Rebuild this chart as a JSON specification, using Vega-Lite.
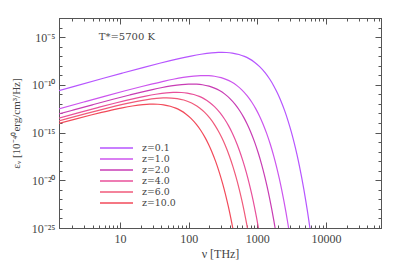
{
  "$schema": "https://vega.github.io/schema/vega-lite/v6.json",
  "width": 322,
  "height": 210,
  "autosize": {"type": "none"},
  "padding": {"left": 59, "top": 18, "right": 18, "bottom": 38},
  "background": "white",
  "config": {
    "view": {"stroke": "#555", "strokeWidth": 1},
    "font": "Liberation Serif",
    "axis": {
      "grid": false,
      "domainColor": "#555",
      "tickColor": "#555",
      "labelColor": "#444",
      "titleColor": "#444",
      "labelFont": "Liberation Serif",
      "titleFont": "Liberation Serif",
      "labelFontSize": 12,
      "titleFontSize": 12,
      "titleFontWeight": "normal",
      "labelOverlap": false,
      "labelFlush": false
    }
  },
  "datasets": {
    "curves": [
      {"z": "z=0.1", "nu": 1.08, "eps": 1.76e-11},
      {"z": "z=0.1", "nu": 2.16, "eps": 7.00e-11},
      {"z": "z=0.1", "nu": 5.4, "eps": 4.31e-10},
      {"z": "z=0.1", "nu": 10.8, "eps": 1.68e-9},
      {"z": "z=0.1", "nu": 21.6, "eps": 6.39e-9},
      {"z": "z=0.1", "nu": 37.8, "eps": 1.81e-8},
      {"z": "z=0.1", "nu": 54, "eps": 3.41e-8},
      {"z": "z=0.1", "nu": 81, "eps": 6.67e-8},
      {"z": "z=0.1", "nu": 108, "eps": 1.03e-7},
      {"z": "z=0.1", "nu": 151.2, "eps": 1.59e-7},
      {"z": "z=0.1", "nu": 216, "eps": 2.21e-7},
      {"z": "z=0.1", "nu": 270, "eps": 2.47e-7},
      {"z": "z=0.1", "nu": 304.6, "eps": 2.51e-7},
      {"z": "z=0.1", "nu": 356.4, "eps": 2.43e-7},
      {"z": "z=0.1", "nu": 432, "eps": 2.11e-7},
      {"z": "z=0.1", "nu": 540, "eps": 1.50e-7},
      {"z": "z=0.1", "nu": 648, "eps": 9.49e-8},
      {"z": "z=0.1", "nu": 756, "eps": 5.53e-8},
      {"z": "z=0.1", "nu": 918, "eps": 2.21e-8},
      {"z": "z=0.1", "nu": 1080, "eps": 8.02e-9},
      {"z": "z=0.1", "nu": 1296, "eps": 1.88e-9},
      {"z": "z=0.1", "nu": 1512, "eps": 4.03e-10},
      {"z": "z=0.1", "nu": 1728, "eps": 8.15e-11},
      {"z": "z=0.1", "nu": 1944, "eps": 1.57e-11},
      {"z": "z=0.1", "nu": 2160, "eps": 2.91e-12},
      {"z": "z=0.1", "nu": 2484, "eps": 2.21e-13},
      {"z": "z=0.1", "nu": 2808, "eps": 1.59e-14},
      {"z": "z=0.1", "nu": 3132, "eps": 1.10e-15},
      {"z": "z=0.1", "nu": 3456, "eps": 7.33e-17},
      {"z": "z=0.1", "nu": 3780, "eps": 4.78e-18},
      {"z": "z=0.1", "nu": 4104, "eps": 3.04e-19},
      {"z": "z=0.1", "nu": 4428, "eps": 1.90e-20},
      {"z": "z=0.1", "nu": 4752, "eps": 1.17e-21},
      {"z": "z=0.1", "nu": 5076, "eps": 7.11e-23},
      {"z": "z=0.1", "nu": 5400, "eps": 4.26e-24},
      {"z": "z=0.1", "nu": 5724, "eps": 2.53e-25},
      {"z": "z=0.1", "nu": 6048, "eps": 1.48e-26},

      {"z": "z=1.0", "nu": 1.188, "eps": 2.60e-13},
      {"z": "z=1.0", "nu": 2.97, "eps": 1.60e-12},
      {"z": "z=1.0", "nu": 5.94, "eps": 6.24e-12},
      {"z": "z=1.0", "nu": 11.88, "eps": 2.37e-11},
      {"z": "z=1.0", "nu": 20.79, "eps": 6.72e-11},
      {"z": "z=1.0", "nu": 29.7, "eps": 1.26e-10},
      {"z": "z=1.0", "nu": 44.55, "eps": 2.48e-10},
      {"z": "z=1.0", "nu": 59.4, "eps": 3.82e-10},
      {"z": "z=1.0", "nu": 83.16, "eps": 5.90e-10},
      {"z": "z=1.0", "nu": 118.8, "eps": 8.22e-10},
      {"z": "z=1.0", "nu": 148.5, "eps": 9.18e-10},
      {"z": "z=1.0", "nu": 167.5, "eps": 9.33e-10},
      {"z": "z=1.0", "nu": 196.0, "eps": 9.04e-10},
      {"z": "z=1.0", "nu": 237.6, "eps": 7.84e-10},
      {"z": "z=1.0", "nu": 297, "eps": 5.57e-10},
      {"z": "z=1.0", "nu": 356.4, "eps": 3.53e-10},
      {"z": "z=1.0", "nu": 415.8, "eps": 2.06e-10},
      {"z": "z=1.0", "nu": 504.9, "eps": 8.21e-11},
      {"z": "z=1.0", "nu": 594, "eps": 2.98e-11},
      {"z": "z=1.0", "nu": 712.8, "eps": 6.97e-12},
      {"z": "z=1.0", "nu": 831.6, "eps": 1.50e-12},
      {"z": "z=1.0", "nu": 950.4, "eps": 3.03e-13},
      {"z": "z=1.0", "nu": 1069.2, "eps": 5.83e-14},
      {"z": "z=1.0", "nu": 1188, "eps": 1.08e-14},
      {"z": "z=1.0", "nu": 1366.2, "eps": 8.20e-16},
      {"z": "z=1.0", "nu": 1544.4, "eps": 5.90e-17},
      {"z": "z=1.0", "nu": 1722.6, "eps": 4.07e-18},
      {"z": "z=1.0", "nu": 1900.8, "eps": 2.72e-19},
      {"z": "z=1.0", "nu": 2079, "eps": 1.78e-20},
      {"z": "z=1.0", "nu": 2257.2, "eps": 1.13e-21},
      {"z": "z=1.0", "nu": 2435.4, "eps": 7.07e-23},
      {"z": "z=1.0", "nu": 2613.6, "eps": 4.35e-24},
      {"z": "z=1.0", "nu": 2791.8, "eps": 2.64e-25},
      {"z": "z=1.0", "nu": 2970, "eps": 1.58e-26},

      {"z": "z=2.0", "nu": 0.792, "eps": 3.35e-14},
      {"z": "z=2.0", "nu": 1.98, "eps": 2.06e-13},
      {"z": "z=2.0", "nu": 3.96, "eps": 8.04e-13},
      {"z": "z=2.0", "nu": 7.92, "eps": 3.06e-12},
      {"z": "z=2.0", "nu": 13.86, "eps": 8.65e-12},
      {"z": "z=2.0", "nu": 19.8, "eps": 1.63e-11},
      {"z": "z=2.0", "nu": 29.7, "eps": 3.19e-11},
      {"z": "z=2.0", "nu": 39.6, "eps": 4.92e-11},
      {"z": "z=2.0", "nu": 55.44, "eps": 7.60e-11},
      {"z": "z=2.0", "nu": 79.2, "eps": 1.06e-10},
      {"z": "z=2.0", "nu": 99, "eps": 1.18e-10},
      {"z": "z=2.0", "nu": 111.7, "eps": 1.20e-10},
      {"z": "z=2.0", "nu": 130.7, "eps": 1.16e-10},
      {"z": "z=2.0", "nu": 158.4, "eps": 1.01e-10},
      {"z": "z=2.0", "nu": 198, "eps": 7.17e-11},
      {"z": "z=2.0", "nu": 237.6, "eps": 4.54e-11},
      {"z": "z=2.0", "nu": 277.2, "eps": 2.65e-11},
      {"z": "z=2.0", "nu": 336.6, "eps": 1.06e-11},
      {"z": "z=2.0", "nu": 396, "eps": 3.84e-12},
      {"z": "z=2.0", "nu": 475.2, "eps": 8.98e-13},
      {"z": "z=2.0", "nu": 554.4, "eps": 1.93e-13},
      {"z": "z=2.0", "nu": 633.6, "eps": 3.90e-14},
      {"z": "z=2.0", "nu": 712.8, "eps": 7.51e-15},
      {"z": "z=2.0", "nu": 792, "eps": 1.39e-15},
      {"z": "z=2.0", "nu": 910.8, "eps": 1.06e-16},
      {"z": "z=2.0", "nu": 1029.6, "eps": 7.60e-18},
      {"z": "z=2.0", "nu": 1148.4, "eps": 5.25e-19},
      {"z": "z=2.0", "nu": 1267.2, "eps": 3.51e-20},
      {"z": "z=2.0", "nu": 1386, "eps": 2.29e-21},
      {"z": "z=2.0", "nu": 1504.8, "eps": 1.46e-22},
      {"z": "z=2.0", "nu": 1623.6, "eps": 9.11e-24},
      {"z": "z=2.0", "nu": 1742.4, "eps": 5.61e-25},
      {"z": "z=2.0", "nu": 1861.2, "eps": 3.40e-26},

      {"z": "z=4.0", "nu": 1.188, "eps": 2.78e-14},
      {"z": "z=4.0", "nu": 2.376, "eps": 1.09e-13},
      {"z": "z=4.0", "nu": 4.752, "eps": 4.12e-13},
      {"z": "z=4.0", "nu": 8.316, "eps": 1.17e-12},
      {"z": "z=4.0", "nu": 11.88, "eps": 2.20e-12},
      {"z": "z=4.0", "nu": 17.82, "eps": 4.31e-12},
      {"z": "z=4.0", "nu": 23.76, "eps": 6.64e-12},
      {"z": "z=4.0", "nu": 33.26, "eps": 1.02e-11},
      {"z": "z=4.0", "nu": 47.52, "eps": 1.43e-11},
      {"z": "z=4.0", "nu": 59.4, "eps": 1.59e-11},
      {"z": "z=4.0", "nu": 67.0, "eps": 1.62e-11},
      {"z": "z=4.0", "nu": 78.41, "eps": 1.57e-11},
      {"z": "z=4.0", "nu": 95.04, "eps": 1.36e-11},
      {"z": "z=4.0", "nu": 118.8, "eps": 9.68e-12},
      {"z": "z=4.0", "nu": 142.6, "eps": 6.12e-12},
      {"z": "z=4.0", "nu": 166.3, "eps": 3.57e-12},
      {"z": "z=4.0", "nu": 202, "eps": 1.43e-12},
      {"z": "z=4.0", "nu": 237.6, "eps": 5.18e-13},
      {"z": "z=4.0", "nu": 285.1, "eps": 1.21e-13},
      {"z": "z=4.0", "nu": 332.6, "eps": 2.60e-14},
      {"z": "z=4.0", "nu": 380.2, "eps": 5.26e-15},
      {"z": "z=4.0", "nu": 427.7, "eps": 1.01e-15},
      {"z": "z=4.0", "nu": 475.2, "eps": 1.88e-16},
      {"z": "z=4.0", "nu": 546.5, "eps": 1.42e-17},
      {"z": "z=4.0", "nu": 617.8, "eps": 1.02e-18},
      {"z": "z=4.0", "nu": 689.0, "eps": 7.08e-20},
      {"z": "z=4.0", "nu": 760.3, "eps": 4.73e-21},
      {"z": "z=4.0", "nu": 831.6, "eps": 3.08e-22},
      {"z": "z=4.0", "nu": 902.9, "eps": 1.97e-23},
      {"z": "z=4.0", "nu": 974.2, "eps": 1.23e-24},
      {"z": "z=4.0", "nu": 1045.4, "eps": 7.56e-26},

      {"z": "z=6.0", "nu": 0.849, "eps": 7.32e-15},
      {"z": "z=6.0", "nu": 1.697, "eps": 2.85e-14},
      {"z": "z=6.0", "nu": 3.394, "eps": 1.08e-13},
      {"z": "z=6.0", "nu": 5.94, "eps": 3.07e-13},
      {"z": "z=6.0", "nu": 8.486, "eps": 5.78e-13},
      {"z": "z=6.0", "nu": 12.73, "eps": 1.13e-12},
      {"z": "z=6.0", "nu": 16.97, "eps": 1.75e-12},
      {"z": "z=6.0", "nu": 23.76, "eps": 2.70e-12},
      {"z": "z=6.0", "nu": 33.94, "eps": 3.76e-12},
      {"z": "z=6.0", "nu": 42.43, "eps": 4.19e-12},
      {"z": "z=6.0", "nu": 47.86, "eps": 4.27e-12},
      {"z": "z=6.0", "nu": 56.0, "eps": 4.13e-12},
      {"z": "z=6.0", "nu": 67.88, "eps": 3.58e-12},
      {"z": "z=6.0", "nu": 84.86, "eps": 2.54e-12},
      {"z": "z=6.0", "nu": 101.8, "eps": 1.61e-12},
      {"z": "z=6.0", "nu": 118.8, "eps": 9.40e-13},
      {"z": "z=6.0", "nu": 144.3, "eps": 3.75e-13},
      {"z": "z=6.0", "nu": 169.7, "eps": 1.36e-13},
      {"z": "z=6.0", "nu": 203.7, "eps": 3.19e-14},
      {"z": "z=6.0", "nu": 237.6, "eps": 6.85e-15},
      {"z": "z=6.0", "nu": 271.5, "eps": 1.38e-15},
      {"z": "z=6.0", "nu": 305.5, "eps": 2.67e-16},
      {"z": "z=6.0", "nu": 339.4, "eps": 4.95e-17},
      {"z": "z=6.0", "nu": 390.3, "eps": 3.75e-18},
      {"z": "z=6.0", "nu": 441.2, "eps": 2.70e-19},
      {"z": "z=6.0", "nu": 492.2, "eps": 1.86e-20},
      {"z": "z=6.0", "nu": 543.1, "eps": 1.25e-21},
      {"z": "z=6.0", "nu": 594.0, "eps": 8.11e-23},
      {"z": "z=6.0", "nu": 644.9, "eps": 5.17e-24},
      {"z": "z=6.0", "nu": 695.8, "eps": 3.23e-25},
      {"z": "z=6.0", "nu": 746.7, "eps": 1.99e-26},

      {"z": "z=10.0", "nu": 1.08, "eps": 6.39e-15},
      {"z": "z=10.0", "nu": 2.16, "eps": 2.43e-14},
      {"z": "z=10.0", "nu": 3.78, "eps": 6.87e-14},
      {"z": "z=10.0", "nu": 5.4, "eps": 1.29e-13},
      {"z": "z=10.0", "nu": 8.1, "eps": 2.54e-13},
      {"z": "z=10.0", "nu": 10.8, "eps": 3.91e-13},
      {"z": "z=10.0", "nu": 15.12, "eps": 6.03e-13},
      {"z": "z=10.0", "nu": 21.6, "eps": 8.41e-13},
      {"z": "z=10.0", "nu": 27, "eps": 9.39e-13},
      {"z": "z=10.0", "nu": 30.46, "eps": 9.55e-13},
      {"z": "z=10.0", "nu": 35.64, "eps": 9.25e-13},
      {"z": "z=10.0", "nu": 43.2, "eps": 8.02e-13},
      {"z": "z=10.0", "nu": 54, "eps": 5.70e-13},
      {"z": "z=10.0", "nu": 64.8, "eps": 3.61e-13},
      {"z": "z=10.0", "nu": 75.6, "eps": 2.10e-13},
      {"z": "z=10.0", "nu": 91.8, "eps": 8.40e-14},
      {"z": "z=10.0", "nu": 108, "eps": 3.05e-14},
      {"z": "z=10.0", "nu": 129.6, "eps": 7.13e-15},
      {"z": "z=10.0", "nu": 151.2, "eps": 1.53e-15},
      {"z": "z=10.0", "nu": 172.8, "eps": 3.10e-16},
      {"z": "z=10.0", "nu": 194.4, "eps": 5.97e-17},
      {"z": "z=10.0", "nu": 216, "eps": 1.11e-17},
      {"z": "z=10.0", "nu": 248.4, "eps": 8.39e-19},
      {"z": "z=10.0", "nu": 280.8, "eps": 6.03e-20},
      {"z": "z=10.0", "nu": 313.2, "eps": 4.17e-21},
      {"z": "z=10.0", "nu": 345.6, "eps": 2.79e-22},
      {"z": "z=10.0", "nu": 378, "eps": 1.82e-23},
      {"z": "z=10.0", "nu": 410.4, "eps": 1.16e-24},
      {"z": "z=10.0", "nu": 442.8, "eps": 7.24e-26}
    ],
    "note": [
      {"nu": 4.91, "eps": 1e-5, "label": "T*=5700 K"}
    ]
  },
  "layer": [
    {
      "data": {"name": "curves"},
      "mark": {"type": "line", "clip": true, "strokeWidth": 1.2, "interpolate": "monotone"},
      "encoding": {
        "x": {
          "field": "nu", "type": "quantitative",
          "scale": {"type": "log", "domain": [1.293, 63240], "nice": false},
          "axis": {
            "orient": "bottom",
            "title": "ν [THz]",
            "titlePadding": 1,
            "values": [2,3,4,5,6,7,8,9,10,20,30,40,50,60,70,80,90,100,200,300,400,500,600,700,800,900,1000,2000,3000,4000,5000,6000,7000,8000,9000,10000,20000,30000,40000,50000,60000],
            "labelExpr": "datum.value == 10 ? '10' : datum.value == 100 ? '100' : datum.value == 1000 ? '1000' : datum.value == 10000 ? '10000' : ''",
            "tickSize": {"condition": {"test": "datum.value == 10 || datum.value == 100 || datum.value == 1000 || datum.value == 10000", "value": -6}, "value": -3},
            "labelPadding": 11
          }
        },
        "y": {
          "field": "eps", "type": "quantitative",
          "scale": {"type": "log", "domain": [1e-25, 1e-3], "nice": false},
          "axis": {
            "orient": "left",
            "title": "εᵥ [10⁻⁴⁰erg/cm³/Hz]",
            "titleFontSize": 11,
            "titlePadding": 10,
            "values": [1e-25,1e-24,1e-23,1e-22,1e-21,1e-20,1e-19,1e-18,1e-17,1e-16,1e-15,1e-14,1e-13,1e-12,1e-11,1e-10,1e-9,1e-8,1e-7,1e-6,1e-5,1e-4,1e-3],
            "labelExpr": "datum.value == 1e-5 ? '10⁻⁵' : datum.value == 1e-10 ? '10⁻¹⁰' : datum.value == 1e-15 ? '10⁻¹⁵' : datum.value == 1e-20 ? '10⁻²⁰' : datum.value == 1e-25 ? '10⁻²⁵' : ''",
            "tickSize": {"condition": {"test": "datum.value == 1e-5 || datum.value == 1e-10 || datum.value == 1e-15 || datum.value == 1e-20 || datum.value == 1e-25", "value": -6}, "value": -3},
            "labelPadding": 10
          }
        },
        "color": {
          "field": "z", "type": "nominal",
          "scale": {
            "domain": ["z=0.1", "z=1.0", "z=2.0", "z=4.0", "z=6.0", "z=10.0"],
            "range": ["#b655ff", "#cc55ee", "#c83cb4", "#e8509a", "#f05a7a", "#f24a5a"]
          },
          "legend": {
            "orient": "none",
            "legendX": 51.5,
            "legendY": 124,
            "title": null,
            "symbolType": "M-3.3,0H3.3",
            "symbolSize": 100,
            "symbolStrokeWidth": 1.3,
            "labelFont": "DejaVu Serif",
            "labelFontSize": 9.4,
            "labelColor": "#444",
            "labelOffset": 19.5,
            "rowPadding": 0
          }
        }
      }
    },
    {
      "data": {"name": "note"},
      "mark": {"type": "text", "align": "left", "baseline": "middle", "font": "DejaVu Serif", "fontSize": 10, "color": "#444"},
      "encoding": {
        "x": {
          "field": "nu", "type": "quantitative",
          "scale": {"type": "log", "domain": [1.293, 63240], "nice": false},
          "axis": {
            "orient": "top",
            "title": null,
            "labels": false,
            "values": [2,3,4,5,6,7,8,9,10,20,30,40,50,60,70,80,90,100,200,300,400,500,600,700,800,900,1000,2000,3000,4000,5000,6000,7000,8000,9000,10000,20000,30000,40000,50000,60000],
            "tickSize": {"condition": {"test": "datum.value == 10 || datum.value == 100 || datum.value == 1000 || datum.value == 10000", "value": -6}, "value": -3}
          }
        },
        "y": {
          "field": "eps", "type": "quantitative",
          "scale": {"type": "log", "domain": [1e-25, 1e-3], "nice": false},
          "axis": {
            "orient": "right",
            "title": null,
            "labels": false,
            "values": [1e-25,1e-24,1e-23,1e-22,1e-21,1e-20,1e-19,1e-18,1e-17,1e-16,1e-15,1e-14,1e-13,1e-12,1e-11,1e-10,1e-9,1e-8,1e-7,1e-6,1e-5,1e-4,1e-3],
            "tickSize": {"condition": {"test": "datum.value == 1e-5 || datum.value == 1e-10 || datum.value == 1e-15 || datum.value == 1e-20 || datum.value == 1e-25", "value": -6}, "value": -3}
          }
        },
        "text": {"field": "label"}
      }
    }
  ],
  "resolve": {"scale": {"x": "independent", "y": "independent"}, "axis": {"x": "independent", "y": "independent"}}
}
